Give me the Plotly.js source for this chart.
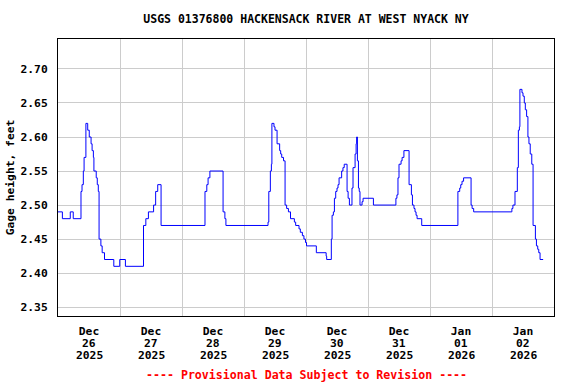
<!DOCTYPE html>
<html>
<head>
<meta charset="utf-8">
<script src="https://cdn.plot.ly/plotly-3.0.1.min.js"></script>
<style>html,body{margin:0;padding:0;background:#fff;}#chart{width:576px;height:384px;}</style>
</head>
<body>
<div id="chart"></div>
<script>
// Hours since 2025-12-26 00:00 at which the gage reading changes
const hoursSinceStart = [
  0.0, 1.7, 4.75, 5.9, 8.9, 9.3, 9.8, 10.1, 10.8, 11.5, 12.1, 12.8, 13.2, 13.7, 13.9,
  14.8, 15.2, 15.6, 15.9, 16.6, 17.1, 18.0, 21.6, 23.9, 26.1,
  33.1, 34.0, 35.0, 37.0, 37.8, 38.6, 39.9,
  56.9, 57.6, 58.1, 58.8, 63.9, 64.6, 65.0,
  81.3, 81.6, 82.2, 82.6, 82.8, 83.6, 84.0, 84.8, 85.8, 86.2, 86.6, 87.3, 87.9, 88.5, 89.2,
  90.0, 91.5, 92.0, 93.3, 93.8, 94.6, 95.2, 95.8, 96.2, 100.0, 103.8, 104.0,
  105.8, 106.1, 106.6, 107.0, 107.5, 108.0, 108.4, 108.8, 109.8, 110.3, 110.8,
  111.9, 112.3, 112.8, 113.8, 114.2, 115.0, 115.4, 115.6, 115.9, 116.3, 116.6, 116.9,
  117.7, 118.1, 122.1, 130.8, 131.2, 131.6, 132.0, 132.8, 133.2, 133.9,
  135.9, 136.8, 137.2, 137.8, 138.2, 138.6, 139.0, 140.8,
  154.8, 155.5, 155.9, 156.4, 157.0, 159.9, 160.3, 160.9,
  175.7, 176.1, 176.9, 177.8, 178.2, 178.6, 178.8, 179.6, 180.0, 180.5, 180.9, 181.4,
  181.9, 182.3, 182.8, 183.4, 183.9, 184.8, 185.2, 185.7, 186.1, 186.6, 187.8
];
// Gage height, feet
const gageHeight = [
  2.49, 2.48, 2.49, 2.48, 2.52, 2.53, 2.55, 2.57, 2.62, 2.61, 2.60, 2.59, 2.58, 2.57, 2.55,
  2.54, 2.53, 2.52, 2.45, 2.44, 2.43, 2.42, 2.41, 2.42, 2.41,
  2.47, 2.48, 2.49, 2.50, 2.52, 2.53, 2.47,
  2.52, 2.53, 2.54, 2.55, 2.49, 2.48, 2.47,
  2.475, 2.52, 2.55, 2.56, 2.62, 2.615, 2.61, 2.59, 2.58, 2.575, 2.57, 2.565, 2.50, 2.495, 2.49,
  2.48, 2.475, 2.47, 2.465, 2.46, 2.455, 2.45, 2.445, 2.44, 2.43, 2.425, 2.42,
  2.45, 2.485, 2.49, 2.51, 2.52, 2.525, 2.53, 2.54, 2.55, 2.555, 2.56,
  2.52, 2.51, 2.50, 2.525, 2.555, 2.575, 2.59, 2.60, 2.565, 2.525, 2.52, 2.50,
  2.505, 2.51, 2.50, 2.51, 2.515, 2.54, 2.56, 2.565, 2.57, 2.58,
  2.53, 2.515, 2.50, 2.495, 2.49, 2.485, 2.48, 2.47,
  2.52, 2.525, 2.53, 2.535, 2.54, 2.50, 2.495, 2.49,
  2.495, 2.50, 2.52, 2.555, 2.61, 2.615, 2.67, 2.665, 2.66, 2.65, 2.64, 2.63,
  2.60, 2.59, 2.575, 2.56, 2.47, 2.45, 2.44, 2.435, 2.43, 2.42, 2.42
];
// Day labels (centred at noon), gridlines at midnight
const tickDates  = ["2025-12-26", "2025-12-27", "2025-12-28", "2025-12-29", "2025-12-30", "2025-12-31", "2026-01-01", "2026-01-02"];
const tickMonths = ["Dec", "Dec", "Dec", "Dec", "Dec", "Dec", "Jan", "Jan"];
const tickDays   = ["26", "27", "28", "29", "30", "31", "01", "02"];
const tickYears  = ["2025", "2025", "2025", "2025", "2025", "2025", "2026", "2026"];
const yTickVals  = [2.35, 2.40, 2.45, 2.50, 2.55, 2.60, 2.65, 2.70];

const base = Date.UTC(2025, 11, 26, 0, 0, 0);
const fmt = ms => new Date(ms).toISOString().replace('T', ' ').slice(0, 19);
const xs = hoursSinceStart.map(h => fmt(base + h * 3600e3));

const font = "DejaVu Sans Mono, monospace";
const tickFont = {family: font, size: 11.3, color: '#000', weight: 'bold'};
const xRange = ['2025-12-26 00:00:00', '2026-01-03 00:00:00'];
const noonVals = tickDates.map(d => d + ' 12:00:00');

const trace = {
  x: xs, y: gageHeight, type: 'scatter', mode: 'lines',
  line: {color: '#0000ff', width: 1, shape: 'hv'}, hoverinfo: 'skip'
};

// Second and third lines of the date labels, under each month tick label
const plotH = 384 - 39 - 68;
const labelLines = [];
noonVals.forEach((v, i) => {
  labelLines.push({text: tickDays[i], x: v, xref: 'x', yref: 'paper', y: -(343 - 316) / plotH,
    xanchor: 'center', yanchor: 'middle', showarrow: false, font: tickFont});
  labelLines.push({text: tickYears[i], x: v, xref: 'x', yref: 'paper', y: -(355.7 - 316) / plotH,
    xanchor: 'center', yanchor: 'middle', showarrow: false, font: tickFont});
});

const layout = {
  width: 576, height: 384,
  margin: {l: 58, r: 22, t: 39, b: 68},
  paper_bgcolor: '#ffffff', plot_bgcolor: '#ffffff',
  showlegend: false,
  title: {
    text: 'USGS 01376800 HACKENSACK RIVER AT WEST NYACK NY',
    font: {family: font, size: 11.5, color: '#000', weight: 'bold'},
    x: 0.5, xref: 'paper', xanchor: 'center', y: 1 - 19 / 384, yanchor: 'middle'
  },
  xaxis: {
    type: 'date', range: xRange,
    tickmode: 'array', tickvals: noonVals, ticktext: tickMonths,
    ticks: '', showgrid: false, zeroline: false,
    tickfont: tickFont, ticklabelstandoff: 4,
    minor: {tickmode: 'array', tickvals: tickDates.map(d => d + ' 00:00:00'), showgrid: true, gridcolor: '#cccccc', gridwidth: 1, ticks: ''},
    showline: true, mirror: true, linecolor: '#000', linewidth: 1
  },
  yaxis: {
    range: [2.337, 2.744],
    tickmode: 'array', tickvals: yTickVals, ticktext: yTickVals.map(v => v.toFixed(2)),
    ticks: '', showgrid: true, gridcolor: '#cccccc', gridwidth: 1, zeroline: false,
    tickfont: tickFont, ticklabelstandoff: 7,
    title: {text: 'Gage height, feet', font: {family: font, size: 11.3, color: '#000', weight: 'bold'}, standoff: 3},
    showline: true, mirror: true, linecolor: '#000', linewidth: 1
  },
  annotations: labelLines.concat([{
    text: '---- Provisional Data Subject to Revision ----',
    xref: 'paper', yref: 'paper', x: 0.5, y: -(375 - 316) / plotH, xanchor: 'center', yanchor: 'middle',
    showarrow: false, font: {family: font, size: 11.6, color: '#ff0000', weight: 'bold'}
  }])
};

Plotly.newPlot('chart', [trace], layout, {staticPlot: true, displayModeBar: false});
</script>
</body>
</html>
